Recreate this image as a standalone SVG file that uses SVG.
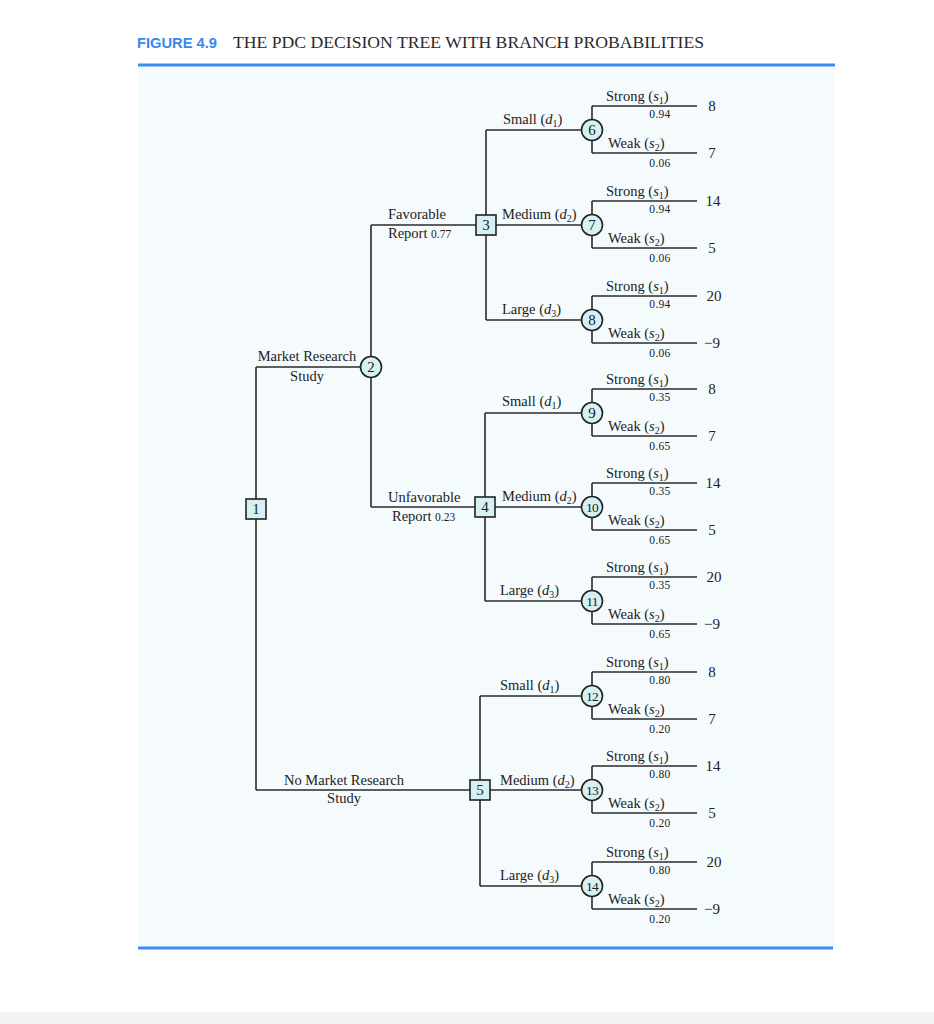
<svg xmlns="http://www.w3.org/2000/svg" width="934" height="1024" viewBox="0 0 934 1024">
<style>
.ln{stroke:#2b2b2b;stroke-width:1.6;fill:none}
.dn{fill:#d6f1f4;stroke:#222;stroke-width:1.6}
.cn{fill:#d6f1f4;stroke:#222;stroke-width:1.6}
.num{font-family:"Liberation Serif",serif;font-size:15px;fill:#222;text-anchor:middle}
.num2{font-family:"Liberation Serif",serif;font-size:13.5px;fill:#222;text-anchor:middle;letter-spacing:-0.7px}
.lb{font-family:"Liberation Serif",serif;font-size:14.5px;fill:#222}
.pr{font-family:"Liberation Serif",serif;font-size:11.5px;fill:#222;text-anchor:middle;letter-spacing:0.3px}
.pv{font-family:"Liberation Serif",serif;font-size:15px;fill:#222;text-anchor:middle}
.c{text-anchor:middle}
.it{font-style:italic}
.sb{font-size:10px}
.bl{stroke:#3d8cf0;stroke-width:3}
</style>
<rect x="0" y="0" width="934" height="1024" fill="#ffffff"/>
<rect x="138" y="66" width="697" height="882" fill="#f5fafd"/>
<rect x="0" y="1012" width="934" height="12" fill="#f2f2f2"/>
<g id="title">
<text x="137" y="48" font-family="Liberation Sans,Arial,sans-serif" font-size="15" font-weight="bold" fill="#3b87ec" textLength="80" lengthAdjust="spacingAndGlyphs">FIGURE 4.9</text>
<text x="233" y="48" font-family="Liberation Serif,serif" font-size="16" fill="#2a2a2a" textLength="471" lengthAdjust="spacingAndGlyphs">THE PDC DECISION TREE WITH BRANCH PROBABILITIES</text>
<line class="bl" x1="138" y1="65" x2="835" y2="65"/>
<line class="bl" x1="138" y1="948" x2="833" y2="948"/>
</g>
<g id="connectors">
<path class="ln" d="M256 367V790M256 367H371M256 790H480"/>
<path class="ln" d="M371 225V507M371 225H486M371 507H485"/>
<path class="ln" d="M486 130V320M486 130H592M486 225H592M486 320H592"/>
<path class="ln" d="M485 413V601M485 413H592M485 507H592M485 601H592"/>
<path class="ln" d="M480 696V886M480 696H592M480 790H592M480 886H592"/>
<path class="ln" d="M592 106V153M592 106H697M592 153H697"/>
<path class="ln" d="M592 201V248M592 201H697M592 248H697"/>
<path class="ln" d="M592 296V343M592 296H697M592 343H697"/>
<path class="ln" d="M592 389V436M592 389H697M592 436H697"/>
<path class="ln" d="M592 483V530M592 483H697M592 530H697"/>
<path class="ln" d="M592 577V624M592 577H697M592 624H697"/>
<path class="ln" d="M592 672V719M592 672H697M592 719H697"/>
<path class="ln" d="M592 766V813M592 766H697M592 813H697"/>
<path class="ln" d="M592 862V909M592 862H697M592 909H697"/>
</g>
<g id="branch-labels">
<text class="lb c" x="307" y="361">Market Research</text>
<text class="lb c" x="307" y="381">Study</text>
<text class="lb c" x="344" y="785">No Market Research</text>
<text class="lb c" x="344" y="803">Study</text>
<text class="lb" x="388" y="219">Favorable</text>
<text class="lb" x="388" y="238">Report <tspan font-size="11.5">0.77</tspan></text>
<text class="lb" x="388" y="502">Unfavorable</text>
<text class="lb" x="392" y="521">Report <tspan font-size="11.5">0.23</tspan></text>
<text class="lb" x="503" y="124">Small (<tspan class="it">d</tspan><tspan class="sb" dy="3">1</tspan><tspan dy="-3">)</tspan></text>
<text class="lb" x="502" y="219">Medium (<tspan class="it">d</tspan><tspan class="sb" dy="3">2</tspan><tspan dy="-3">)</tspan></text>
<text class="lb" x="502" y="314">Large (<tspan class="it">d</tspan><tspan class="sb" dy="3">3</tspan><tspan dy="-3">)</tspan></text>
<text class="lb" x="502" y="406">Small (<tspan class="it">d</tspan><tspan class="sb" dy="3">1</tspan><tspan dy="-3">)</tspan></text>
<text class="lb" x="502" y="501">Medium (<tspan class="it">d</tspan><tspan class="sb" dy="3">2</tspan><tspan dy="-3">)</tspan></text>
<text class="lb" x="500" y="595">Large (<tspan class="it">d</tspan><tspan class="sb" dy="3">3</tspan><tspan dy="-3">)</tspan></text>
<text class="lb" x="500" y="690">Small (<tspan class="it">d</tspan><tspan class="sb" dy="3">1</tspan><tspan dy="-3">)</tspan></text>
<text class="lb" x="500" y="785">Medium (<tspan class="it">d</tspan><tspan class="sb" dy="3">2</tspan><tspan dy="-3">)</tspan></text>
<text class="lb" x="500" y="880">Large (<tspan class="it">d</tspan><tspan class="sb" dy="3">3</tspan><tspan dy="-3">)</tspan></text>
</g>
<g id="node1"><rect class="dn" x="246" y="499" width="20" height="20"/><text class="num" x="256" y="514">1</text></g>
<g id="node2"><circle class="cn" cx="371" cy="367" r="10.5"/><text class="num" x="371" y="372">2</text></g>
<g id="node3"><rect class="dn" x="476" y="215" width="20" height="20"/><text class="num" x="486" y="230">3</text></g>
<g id="node4"><rect class="dn" x="475" y="497" width="20" height="20"/><text class="num" x="485" y="512">4</text></g>
<g id="node5"><rect class="dn" x="470" y="780" width="20" height="20"/><text class="num" x="480" y="795">5</text></g>
<g id="node6"><circle class="cn" cx="592" cy="130" r="10.5"/><text class="num" x="592" y="135">6</text>
<text class="lb" x="606" y="101">Strong (<tspan class="it">s</tspan><tspan class="sb" dy="3">1</tspan><tspan dy="-3">)</tspan></text><text class="pr" x="660" y="118">0.94</text>
<text class="lb" x="608" y="148">Weak (<tspan class="it">s</tspan><tspan class="sb" dy="3">2</tspan><tspan dy="-3">)</tspan></text><text class="pr" x="660" y="167">0.06</text>
<text class="pv" x="712" y="111">8</text><text class="pv" x="712" y="158">7</text></g>
<g id="node7"><circle class="cn" cx="592" cy="225" r="10.5"/><text class="num" x="592" y="230">7</text>
<text class="lb" x="606" y="196">Strong (<tspan class="it">s</tspan><tspan class="sb" dy="3">1</tspan><tspan dy="-3">)</tspan></text><text class="pr" x="660" y="213">0.94</text>
<text class="lb" x="608" y="243">Weak (<tspan class="it">s</tspan><tspan class="sb" dy="3">2</tspan><tspan dy="-3">)</tspan></text><text class="pr" x="660" y="262">0.06</text>
<text class="pv" x="713" y="206">14</text><text class="pv" x="712" y="253">5</text></g>
<g id="node8"><circle class="cn" cx="592" cy="320" r="10.5"/><text class="num" x="592" y="325">8</text>
<text class="lb" x="606" y="291">Strong (<tspan class="it">s</tspan><tspan class="sb" dy="3">1</tspan><tspan dy="-3">)</tspan></text><text class="pr" x="660" y="308">0.94</text>
<text class="lb" x="608" y="338">Weak (<tspan class="it">s</tspan><tspan class="sb" dy="3">2</tspan><tspan dy="-3">)</tspan></text><text class="pr" x="660" y="357">0.06</text>
<text class="pv" x="714" y="301">20</text><text class="pv" x="712" y="348">−9</text></g>
<g id="node9"><circle class="cn" cx="592" cy="413" r="10.5"/><text class="num" x="592" y="418">9</text>
<text class="lb" x="606" y="384">Strong (<tspan class="it">s</tspan><tspan class="sb" dy="3">1</tspan><tspan dy="-3">)</tspan></text><text class="pr" x="660" y="401">0.35</text>
<text class="lb" x="608" y="431">Weak (<tspan class="it">s</tspan><tspan class="sb" dy="3">2</tspan><tspan dy="-3">)</tspan></text><text class="pr" x="660" y="450">0.65</text>
<text class="pv" x="712" y="394">8</text><text class="pv" x="712" y="441">7</text></g>
<g id="node10"><circle class="cn" cx="592" cy="507" r="10.5"/><text class="num2" x="592" y="512">10</text>
<text class="lb" x="606" y="478">Strong (<tspan class="it">s</tspan><tspan class="sb" dy="3">1</tspan><tspan dy="-3">)</tspan></text><text class="pr" x="660" y="495">0.35</text>
<text class="lb" x="608" y="525">Weak (<tspan class="it">s</tspan><tspan class="sb" dy="3">2</tspan><tspan dy="-3">)</tspan></text><text class="pr" x="660" y="544">0.65</text>
<text class="pv" x="713" y="488">14</text><text class="pv" x="712" y="535">5</text></g>
<g id="node11"><circle class="cn" cx="592" cy="601" r="10.5"/><text class="num2" x="592" y="606">11</text>
<text class="lb" x="606" y="572">Strong (<tspan class="it">s</tspan><tspan class="sb" dy="3">1</tspan><tspan dy="-3">)</tspan></text><text class="pr" x="660" y="589">0.35</text>
<text class="lb" x="608" y="619">Weak (<tspan class="it">s</tspan><tspan class="sb" dy="3">2</tspan><tspan dy="-3">)</tspan></text><text class="pr" x="660" y="638">0.65</text>
<text class="pv" x="714" y="582">20</text><text class="pv" x="712" y="629">−9</text></g>
<g id="node12"><circle class="cn" cx="592" cy="696" r="10.5"/><text class="num2" x="592" y="701">12</text>
<text class="lb" x="606" y="667">Strong (<tspan class="it">s</tspan><tspan class="sb" dy="3">1</tspan><tspan dy="-3">)</tspan></text><text class="pr" x="660" y="684">0.80</text>
<text class="lb" x="608" y="714">Weak (<tspan class="it">s</tspan><tspan class="sb" dy="3">2</tspan><tspan dy="-3">)</tspan></text><text class="pr" x="660" y="733">0.20</text>
<text class="pv" x="712" y="677">8</text><text class="pv" x="712" y="724">7</text></g>
<g id="node13"><circle class="cn" cx="592" cy="790" r="10.5"/><text class="num2" x="592" y="795">13</text>
<text class="lb" x="606" y="761">Strong (<tspan class="it">s</tspan><tspan class="sb" dy="3">1</tspan><tspan dy="-3">)</tspan></text><text class="pr" x="660" y="778">0.80</text>
<text class="lb" x="608" y="808">Weak (<tspan class="it">s</tspan><tspan class="sb" dy="3">2</tspan><tspan dy="-3">)</tspan></text><text class="pr" x="660" y="827">0.20</text>
<text class="pv" x="713" y="771">14</text><text class="pv" x="712" y="818">5</text></g>
<g id="node14"><circle class="cn" cx="592" cy="886" r="10.5"/><text class="num2" x="592" y="891">14</text>
<text class="lb" x="606" y="857">Strong (<tspan class="it">s</tspan><tspan class="sb" dy="3">1</tspan><tspan dy="-3">)</tspan></text><text class="pr" x="660" y="874">0.80</text>
<text class="lb" x="608" y="904">Weak (<tspan class="it">s</tspan><tspan class="sb" dy="3">2</tspan><tspan dy="-3">)</tspan></text><text class="pr" x="660" y="923">0.20</text>
<text class="pv" x="714" y="867">20</text><text class="pv" x="712" y="914">−9</text></g>
</svg>
